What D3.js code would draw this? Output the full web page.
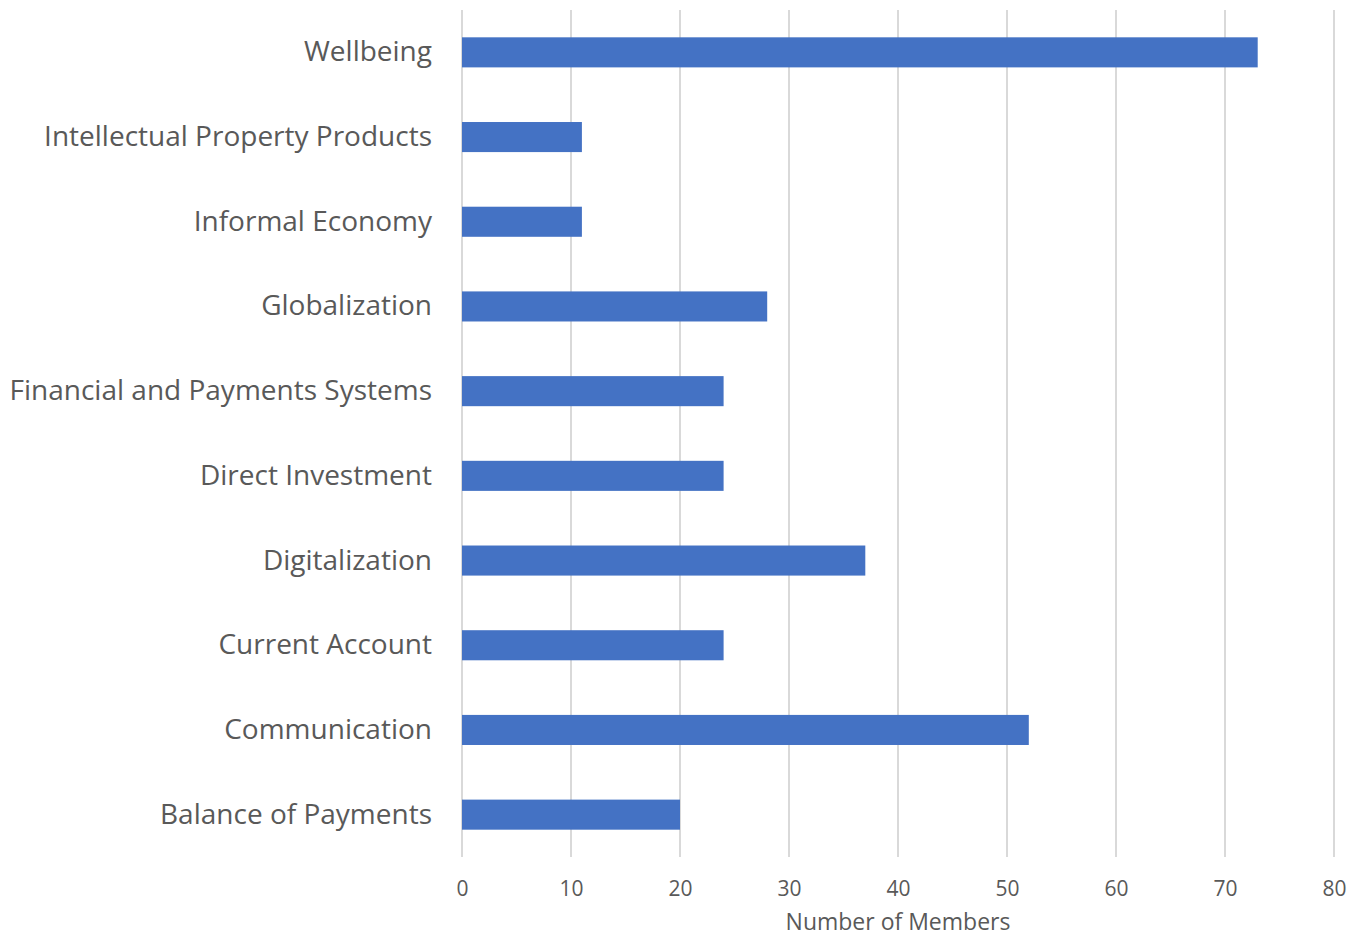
<!DOCTYPE html>
<html>
<head>
<meta charset="utf-8">
<script src="https://cdn.jsdelivr.net/npm/d3@7"></script>
<style>
  body { margin: 0; background: #fff; }
  svg text { font-family: "Open Sans", sans-serif; fill: #595959; }
</style>
</head>
<body>
<div id="chart"></div>
<script>
// categories top to bottom, as in the picture
const categories = [
  "Wellbeing",
  "Intellectual Property Products",
  "Informal Economy",
  "Globalization",
  "Financial and Payments Systems",
  "Direct Investment",
  "Digitalization",
  "Current Account",
  "Communication",
  "Balance of Payments",
];
const members = [73, 11, 11, 28, 24, 24, 37, 24, 52, 20];
const xTicks = [0, 10, 20, 30, 40, 50, 60, 70, 80];
const xTitle = "Number of Members";

const width = 1353;
const height = 937;
const margin = { top: 10, right: 19, bottom: 80, left: 462 };

const svg = d3
  .select("#chart")
  .append("svg")
  .attr("width", width)
  .attr("height", height);

const x = d3
  .scaleLinear()
  .domain([0, 80])
  .range([margin.left, width - margin.right]);

const y = d3
  .scaleBand()
  .domain(categories)
  .range([margin.top, height - margin.bottom])
  .paddingInner(0.645)
  .paddingOuter(0.3225);

// gridlines
svg
  .append("g")
  .selectAll("line")
  .data(xTicks)
  .join("line")
  .attr("x1", (d) => x(d))
  .attr("x2", (d) => x(d))
  .attr("y1", margin.top)
  .attr("y2", height - margin.bottom)
  .attr("stroke", "#d9d9d9")
  .attr("stroke-width", 2);

// bars
svg
  .append("g")
  .selectAll("rect")
  .data(categories.map((c, i) => ({ name: c, value: members[i] })))
  .join("rect")
  .attr("x", x(0))
  .attr("y", (d) => y(d.name))
  .attr("width", (d) => x(d.value) - x(0))
  .attr("height", y.bandwidth())
  .attr("fill", "#4472c4");

// category labels
const yAxis = svg
  .append("g")
  .attr("transform", `translate(${margin.left},0)`)
  .call(d3.axisLeft(y).tickSize(0).tickPadding(30));
yAxis.select(".domain").remove();
yAxis
  .selectAll("text")
  .style("font-size", "28px")
  .attr("fill", "#595959");

// x tick labels
const xAxis = svg
  .append("g")
  .attr("transform", `translate(0,${height - margin.bottom})`)
  .call(d3.axisBottom(x).tickValues(xTicks).tickSize(0).tickPadding(24));
xAxis.select(".domain").remove();
xAxis
  .selectAll("text")
  .style("font-size", "21px")
  .attr("fill", "#595959");

svg
  .append("text")
  .attr("x", (x(0) + x(80)) / 2)
  .attr("y", 930)
  .attr("text-anchor", "middle")
  .style("font-size", "23px")
  .text(xTitle);
</script>
</body>
</html>
